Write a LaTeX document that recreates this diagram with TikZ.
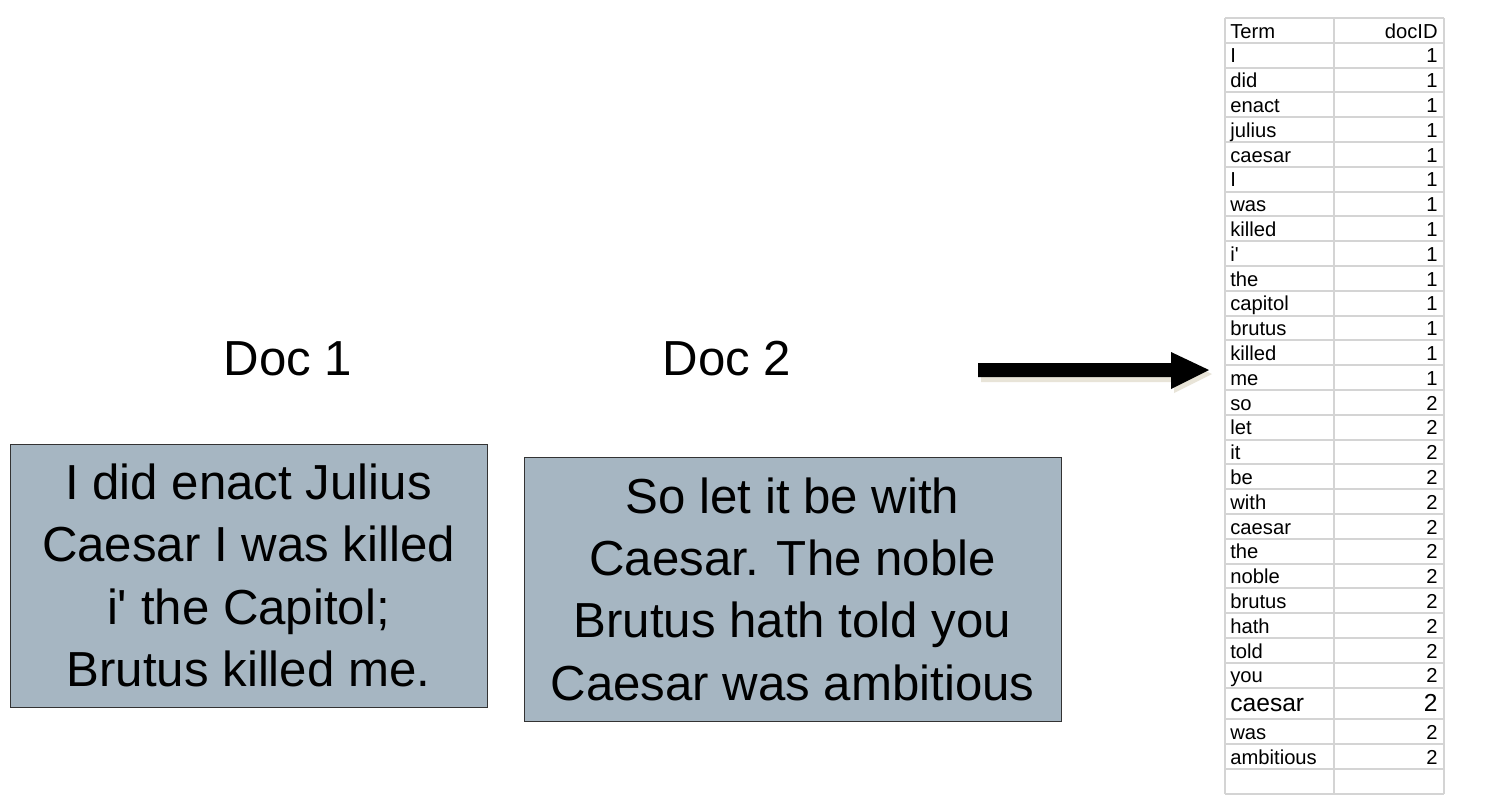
\documentclass[tikz,border=0pt]{standalone}
\usepackage{fontspec}
\setmainfont{Liberation Sans}
\newfontfamily\plainsans{Liberation Sans}
\usetikzlibrary{positioning}

\definecolor{boxblue}{RGB}{166,182,194}
\definecolor{gridgrey}{RGB}{212,212,212}
\definecolor{shadowbeige}{RGB}{232,228,216}

\tikzset{
  docbox/.style={draw=black!80, fill=boxblue, line width=0.5pt, align=center,
    inner sep=0pt, font=\plainsans\fontsize{28}{35.5}\selectfont},
  doclabel/.style={anchor=base, inner sep=0pt, font=\fontsize{28}{34}\selectfont},
  gridline/.style={draw=gridgrey, line width=1.1pt},
  term/.style={anchor=base west, inner sep=0pt, font=\plainsans\fontsize{11.5}{13}\selectfont},
  docid/.style={anchor=base east, inner sep=0pt, font=\fontsize{11.5}{13}\selectfont}
}

\begin{document}
\begin{tikzpicture}[x=0.02cm, y=-0.02cm]

  \useasboundingbox[fill=white] (0,0) rectangle (1498,796);

  % documents
  \node[doclabel] (lab1) at (288,375) {Doc 1};
  \node[doclabel] (lab2) at (727,375) {Doc 2};

  \node[docbox, minimum width=9.54cm, minimum height=5.26cm] (doc1) at (248.5,575.5)
    {I did enact Julius\\Caesar I was killed\\i' the Capitol;\\Brutus killed me.};
  \node[docbox, minimum width=10.74cm, minimum height=5.28cm] (doc2) at (792.5,589)
    {So let it be with\\Caesar. The noble\\Brutus hath told you\\Caesar was ambitious};

  % arrow
  \coordinate (tail) at (978,370);
  \coordinate (tip) at (1209,370);
  \fill[shadowbeige] ([shift={(3,4)}]tail) ++(0,-7) -- ++(193,0) -- ++(0,-11) -- ++(38,18)
    -- ++(-38,19) -- ++(0,-11) -- ++(-193,0) -- cycle;
  \fill[black] (tail) ++(0,-7) -- ++(193,0) -- ++(0,-11) -- (tip)
    -- ++(-38,19) -- ++(0,-12) -- ++(-193,0) -- cycle;

  % table grid
  \foreach \k in {0,...,27}
    \draw[gridline] (1225,18+\k*24.8) -- (1444,18+\k*24.8);
  \foreach \yy in {719,744,769,794}
    \draw[gridline] (1225,\yy) -- (1444,\yy);
  \foreach \xx in {1225,1334,1444}
    \draw[gridline] (\xx,18) -- (\xx,794);

  % table header
  \node[term] (head-term) at (1230,38) {Term};
  \node[docid] (head-doc) at (1438,38) {docID};

  % table rows
  \foreach \t/\d [count=\i] in {I/1,did/1,enact/1,julius/1,caesar/1,I/1,was/1,
      killed/1,i'/1,the/1,capitol/1,brutus/1,killed/1,me/1,so/2,let/2,it/2,be/2,
      with/2,caesar/2,the/2,noble/2,brutus/2,hath/2,told/2,you/2} {
    \node[term] (term-\i) at (1230,38+\i*24.8) {\t};
    \node[docid] (id-\i) at (1438,38+\i*24.8) {\d};
  }
  \node[term, font=\fontsize{14}{16}\selectfont] (term-27) at (1230,711) {caesar};
  \node[docid, font=\fontsize{14}{16}\selectfont] (id-27) at (1438,711) {2};
  \node[term] (term-28) at (1230,739) {was};
  \node[docid] (id-28) at (1438,739) {2};
  \node[term] (term-29) at (1230,764) {ambitious};
  \node[docid] (id-29) at (1438,764) {2};

\end{tikzpicture}
\end{document}
